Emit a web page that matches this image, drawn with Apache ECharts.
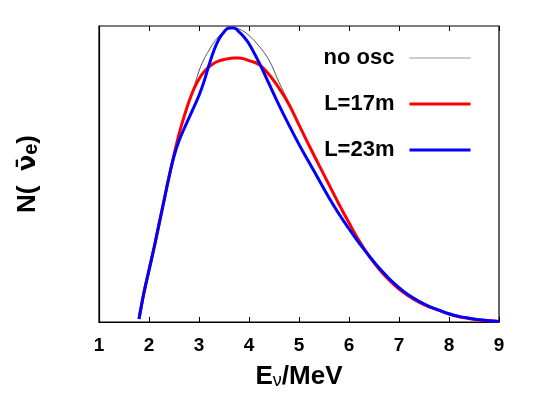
<!doctype html>
<html>
<head>
<meta charset="UTF-8">
<title></title>
<script src="https://cdn.jsdelivr.net/npm/echarts@6/dist/echarts.min.js"></script>
<style>
  html, body { margin: 0; padding: 0; background: #fff; }
  #main { width: 534px; height: 419px; }
</style>
</head>
<body>
<div id="main"></div>
<script type="text/javascript">
// energies in MeV
var energy = [1.8, 1.9, 2.0, 2.1, 2.2, 2.3, 2.4, 2.5, 2.6, 2.7, 2.8, 2.9, 3.0, 3.1, 3.2, 3.3, 3.4, 3.5, 3.6, 3.7, 3.8, 3.9, 4.0,
  4.2, 4.4, 4.6, 4.8, 5.0, 5.2, 5.4, 5.6, 5.8, 6.0, 6.2, 6.4, 6.6, 6.8, 7.0, 7.2, 7.4, 7.6, 7.8, 8.0, 8.2, 8.4, 8.6, 8.8, 9.0];
// no oscillation
var noOsc = [0.01, 0.10, 0.175, 0.25, 0.33, 0.41, 0.49, 0.565, 0.635, 0.695, 0.748, 0.795, 0.848, 0.888, 0.918, 0.945, 0.966, 0.981, 0.99, 0.993, 0.99, 0.981, 0.968,
  0.932, 0.885, 0.81, 0.74, 0.668, 0.598, 0.53, 0.464, 0.398, 0.336, 0.278, 0.228, 0.184, 0.146, 0.115, 0.09, 0.07, 0.053, 0.04, 0.028, 0.019, 0.013, 0.008, 0.004, 0.002];
// L = 17 m
var l17 = [0.01, 0.10, 0.175, 0.25, 0.33, 0.41, 0.49, 0.565, 0.635, 0.693, 0.745, 0.788, 0.821, 0.845, 0.862, 0.874, 0.882, 0.887, 0.89, 0.892, 0.892, 0.889, 0.883,
  0.87, 0.836, 0.79, 0.735, 0.666, 0.597, 0.53, 0.464, 0.398, 0.335, 0.275, 0.223, 0.179, 0.142, 0.111, 0.087, 0.067, 0.051, 0.039, 0.027, 0.018, 0.012, 0.007, 0.004, 0.002];
// L = 23 m
var l23 = [0.01, 0.10, 0.175, 0.25, 0.33, 0.41, 0.49, 0.56, 0.612, 0.652, 0.69, 0.727, 0.765, 0.812, 0.868, 0.918, 0.956, 0.98, 0.993, 0.993, 0.98, 0.963, 0.94,
  0.877, 0.805, 0.733, 0.665, 0.60, 0.54, 0.48, 0.42, 0.365, 0.315, 0.267, 0.224, 0.183, 0.147, 0.116, 0.09, 0.07, 0.053, 0.04, 0.028, 0.019, 0.013, 0.008, 0.004, 0.002];
var xTicks = [1, 2, 3, 4, 5, 6, 7, 8, 9];

function pairs(ys) {
  var out = [];
  for (var i = 0; i < energy.length; i++) out.push([energy[i], ys[i]]);
  return out;
}

var chart = echarts.init(document.getElementById('main'));
var font = 'Liberation Sans, Arial, sans-serif';

var option = {
  backgroundColor: '#ffffff',
  animation: false,
  grid: { left: 99, right: 35, top: 26, bottom: 97, show: true, borderColor: '#000', borderWidth: 1.2 },
  legend: {
    orient: 'vertical',
    right: 57,
    top: 42,
    align: 'right',
    itemWidth: 61,
    itemHeight: 14,
    itemGap: 24,
    itemStyle: { opacity: 0 },
    textStyle: { fontFamily: font, fontWeight: 'bold', fontSize: 22, color: '#000', padding: [0, 10, 0, 0] },
    data: [
      { name: 'no osc', lineStyle: { color: '#999', width: 1.2 } },
      { name: 'L=17m', lineStyle: { color: '#ff0000', width: 3 } },
      { name: 'L=23m', lineStyle: { color: '#0000ff', width: 3 } }
    ]
  },
  xAxis: [{
    type: 'value', min: 1, max: 9, interval: 1, position: 'bottom',
    axisLine: { show: true, lineStyle: { color: '#000', width: 1.2 } },
    axisTick: { show: true, inside: true, length: 5, lineStyle: { color: '#000' } },
    axisLabel: { margin: 14, fontFamily: font, fontWeight: 'bold', fontSize: 19, color: '#000',
      formatter: function (v) { return xTicks.indexOf(v) >= 0 ? String(v) : ''; } },
    splitLine: { show: false },
    name: '{a|E}{s|ν}{a|/MeV}',
    nameLocation: 'middle',
    nameGap: 38,
    nameTextStyle: {
      rich: {
        a: { fontFamily: font, fontWeight: 'bold', fontSize: 26, color: '#000', lineHeight: 30, verticalAlign: 'bottom' },
        s: { fontFamily: font, fontSize: 18, color: '#000', lineHeight: 12, verticalAlign: 'bottom' }
      }
    }
  }, {
    type: 'value', min: 1, max: 9, interval: 1, position: 'top',
    axisLine: { show: false },
    axisTick: { show: true, inside: true, length: 5, lineStyle: { color: '#000' } },
    axisLabel: { show: false },
    splitLine: { show: false }
  }],
  yAxis: {
    type: 'value', min: 0, max: 1,
    axisLine: { show: true, lineStyle: { color: '#000', width: 1.2 } },
    axisTick: { show: false },
    axisLabel: { show: false },
    splitLine: { show: false },
    name: '{a|N(  }{b|ν̄}{s|e}{a|)}',
    nameLocation: 'middle',
    nameRotate: 90,
    nameGap: 58,
    nameTextStyle: {
      rich: {
        a: { fontFamily: font, fontWeight: 'bold', fontSize: 26, color: '#000', lineHeight: 30, verticalAlign: 'bottom' },
        b: { fontFamily: 'DejaVu Sans', fontWeight: 'bold', fontSize: 24, color: '#000', lineHeight: 30, verticalAlign: 'bottom' },
        s: { fontFamily: font, fontWeight: 'bold', fontSize: 20, color: '#000', lineHeight: 14, verticalAlign: 'bottom' }
      }
    }
  },
  series: [{
    name: 'no osc', type: 'line', xAxisIndex: 0, symbol: 'none', smooth: 0.4,
    lineStyle: { color: '#555', width: 1 }, itemStyle: { color: '#888' },
    data: pairs(noOsc), z: 1
  }, {
    name: 'L=17m', type: 'line', xAxisIndex: 0, symbol: 'none', smooth: 0.4,
    lineStyle: { color: '#ff0000', width: 3 }, itemStyle: { color: '#ff0000' },
    data: pairs(l17), z: 2
  }, {
    name: 'L=23m', type: 'line', xAxisIndex: 0, symbol: 'none', smooth: 0.4,
    lineStyle: { color: '#0000ff', width: 3 }, itemStyle: { color: '#0000ff' },
    data: pairs(l23), z: 3
  }]
};
chart.setOption(option);
</script>
</body>
</html>
